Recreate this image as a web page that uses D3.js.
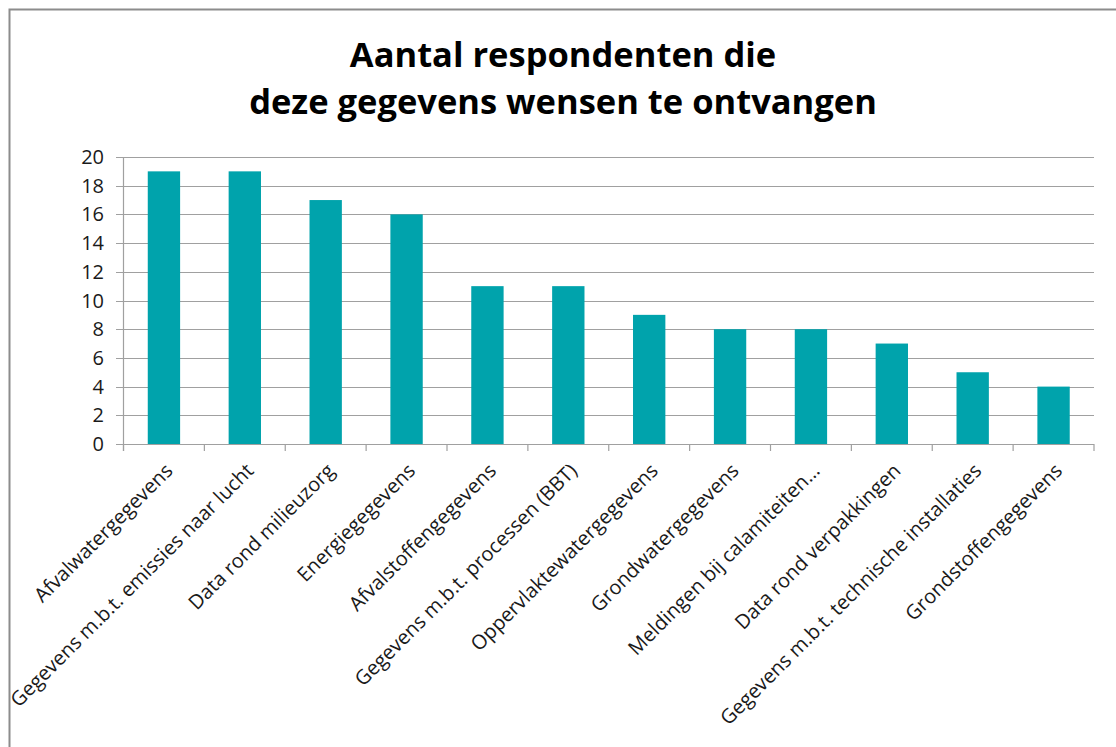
<!DOCTYPE html>
<html>
<head>
<meta charset="utf-8">
<script src="https://cdn.jsdelivr.net/npm/d3@7"></script>
<style>
  body { margin: 0; background: #fff; }
  svg { display: block; font-family: "Open Sans", sans-serif; }
</style>
</head>
<body>
<svg width="1116" height="747"></svg>
<script>
// data
var categories = [
    "Afvalwatergegevens",
    "Gegevens m.b.t. emissies naar lucht",
    "Data rond milieuzorg",
    "Energiegegevens",
    "Afvalstoffengegevens",
    "Gegevens m.b.t. processen (BBT)",
    "Oppervlaktewatergegevens",
    "Grondwatergegevens",
    "Meldingen bij calamiteiten\u2026",
    "Data rond verpakkingen",
    "Gegevens m.b.t. technische installaties",
    "Grondstoffengegevens"
];
var counts = [19, 19, 17, 16, 11, 11, 9, 8, 8, 7, 5, 4];
var yTicks = [0, 2, 4, 6, 8, 10, 12, 14, 16, 18, 20];
var titleLines = ["Aantal respondenten die", "deze gegevens wensen te ontvangen"];

var svg = d3.select("svg");

// chart frame
svg.append("rect")
    .attr("x", 9.5).attr("y", 9.5)
    .attr("width", 1130).attr("height", 760)
    .attr("fill", "none")
    .attr("stroke", "#8c8c8c")
    .attr("stroke-width", 2);

// title
svg.append("text")
    .attr("x", 563)
    .attr("text-anchor", "middle")
    .attr("font-weight", "bold")
    .attr("font-size", 34.5)
    .attr("fill", "#000")
    .selectAll("tspan")
    .data(titleLines)
    .enter()
    .append("tspan")
    .attr("x", 563)
    .attr("y", function(d, i){ return 67 + i * 47; })
    .text(function(d){ return d; });

// scales
var x = d3.scaleBand()
    .domain(categories)
    .range([123.5, 1094])
    .paddingInner(0.6)
    .paddingOuter(0.3);

var y = d3.scaleLinear()
    .domain([0, 20])
    .range([444, 157]);

// gridlines
svg.append("g")
    .selectAll("line")
    .data(yTicks)
    .enter()
    .append("line")
    .attr("x1", 116).attr("x2", 1094)
    .attr("y1", function(d){ return Math.round(y(d)) + 0.5; })
    .attr("y2", function(d){ return Math.round(y(d)) + 0.5; })
    .attr("stroke", "#a0a0a0")
    .attr("stroke-width", 1.2);

// y labels
svg.append("g")
    .selectAll("text")
    .data(yTicks)
    .enter()
    .append("text")
    .attr("x", 104)
    .attr("y", function(d){ return y(d); })
    .attr("dy", "0.35em")
    .attr("text-anchor", "end")
    .attr("font-size", 20)
    .attr("fill", "#1a1a1a")
    .text(function(d){ return d; });

// bars
svg.append("g")
    .selectAll("rect")
    .data(counts)
    .enter()
    .append("rect")
    .attr("x", function(d, i){ return x(categories[i]); })
    .attr("y", function(d){ return y(d); })
    .attr("width", x.bandwidth())
    .attr("height", function(d){ return y(0) - y(d); })
    .attr("fill", "#00a3ac");

// axes lines
svg.append("line")
    .attr("x1", 123.5).attr("x2", 123.5)
    .attr("y1", 157).attr("y2", 451)
    .attr("stroke", "#a0a0a0").attr("stroke-width", 1.2);

svg.append("line")
    .attr("x1", 116).attr("x2", 1094)
    .attr("y1", 444.5).attr("y2", 444.5)
    .attr("stroke", "#a0a0a0").attr("stroke-width", 1.2);

// category tick marks on band edges
var step = x.step();
svg.append("g")
    .selectAll("line")
    .data(d3.range(categories.length + 1))
    .enter()
    .append("line")
    .attr("x1", function(i){ return x(categories[0]) - step * 0.3 + i * step; })
    .attr("x2", function(i){ return x(categories[0]) - step * 0.3 + i * step; })
    .attr("y1", 444).attr("y2", 451)
    .attr("stroke", "#a0a0a0").attr("stroke-width", 1.2);

// category labels, rotated
svg.append("g")
    .selectAll("text")
    .data(categories)
    .enter()
    .append("text")
    .attr("transform", function(d){
        var cx = x(d) + x.bandwidth() / 2 + 10;
        return "translate(" + cx + ",472) rotate(-45)";
    })
    .attr("text-anchor", "end")
    .attr("font-size", 20)
    .attr("fill", "#1a1a1a")
    .text(function(d){ return d; });
</script>
</body>
</html>
